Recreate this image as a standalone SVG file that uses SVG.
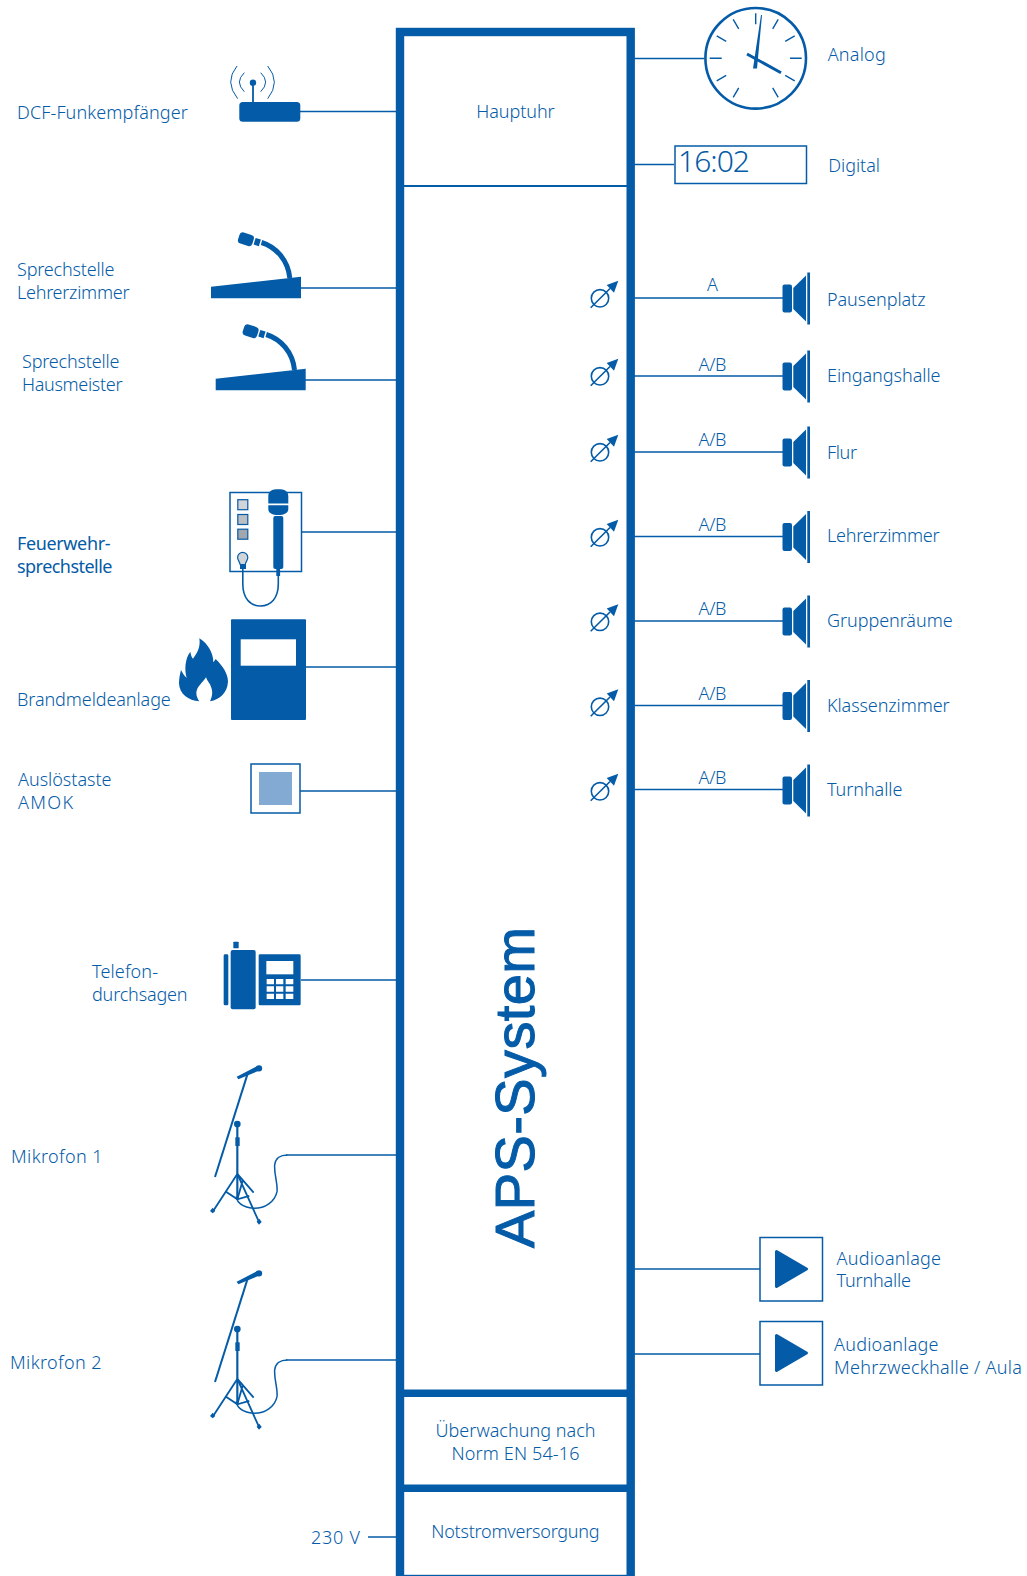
<svg xmlns="http://www.w3.org/2000/svg" xmlns:xlink="http://www.w3.org/1999/xlink" width="1027" height="1576" viewBox="0 0 1027 1576">
<style>
text{font-family:"Noto Sans","Open Sans",sans-serif;font-size:18px;font-weight:300;fill:#045ba7}
.m{text-anchor:middle}
.f{fill:#045ba7}
.s{fill:none;stroke:#045ba7}
.c{fill:none;stroke:#045ba7;stroke-width:1.7}
.w{fill:#fff}
</style>
<defs>
<g id="spk">
<rect class="f" x="782.500" y="-13.500" width="9.500" height="28" rx="2"/>
<polygon class="f" points="793.300,-10 806,-22.500 806,23.500 793.300,11"/>
<rect class="f" x="807.300" y="-25.500" width="2.700" height="52"/>
</g>
<g id="knob">
<circle class="s" cx="600" cy="0.300" r="8.700" stroke-width="1.600"/>
<line class="s" x1="590.700" y1="9.700" x2="610" y2="-9.500" stroke-width="1.600"/>
<polygon class="f" points="618.300,-17.300 606.700,-13 614,-5.300"/>
</g>
<g id="deskmic">
<polygon class="f" points="211,286.700 301,276.700 301,298.300 211,298.300"/>
<path class="s" stroke-width="5" d="M289.800,278 C288,260 276,247 261.500,242.500"/>
<rect class="f" x="254.500" y="238.500" width="5.500" height="7" transform="rotate(17 257 242)"/>
<rect class="f" x="238.500" y="233.500" width="15" height="11.500" rx="3.500" transform="rotate(17 246 239)"/>
</g>
<g id="stand" transform="translate(200,920) scale(.3333)">
<path class="s" stroke-width="6" d="M45,771 L142,464"/>
<polygon class="f" points="110,470 172,438 182,450 115,478"/>
<circle class="f" cx="177" cy="445" r="9.500"/>
<path class="s" stroke-width="6.500" d="M112,612 V840"/>
<circle class="f" cx="112" cy="612" r="10"/>
<rect class="f" x="106" y="652" width="13" height="26"/>
<path class="s" stroke-width="5.500" d="M112,762 L38,875 M112,762 L178,908 M112,762 L161,818 M78,815 L112,838 L148,828 M128,782 L112,838"/>
<path class="f" d="M30,873L38,863L46,873L38,880Z"/>
<path class="f" d="M170,905L178,896L185,906L177,914Z"/>
<path class="s" stroke-width="4.500" d="M108,830 C112,848 130,862 160,865 C195,866 225,845 231,815 C234,790 222,765 224,735 C226,715 242,705 262,705"/>
</g>
</defs>

<g id="connectors">
<path class="c" d="M300,111.500H396M301,288H396M305,380H396M302,532H396M306,667H396M300,791H396M301,980H396M368,1537H396M634,58.500H704M634,164.500H674M634,298H783M634,376H783M634,452H783M634,536.500H783M634,621H783M634,705.500H783M634,789.500H783M634,1269H760M634,1354H760"/>
<path class="c" d="M286,1155H396"/>
<path class="c" d="M286,1360H396"/>
</g>

<g id="aps-system">
<rect x="400" y="32" width="230.700" height="1547" fill="#fff" stroke="#045ba7" stroke-width="8.400"/>
<rect class="f" x="404" y="185" width="223" height="2"/>
<rect class="f" x="404" y="1389.500" width="223" height="7.500"/>
<rect class="f" x="404" y="1484.500" width="223" height="7.500"/>
<text class="m" x="515.500" y="118" textLength="78.400">Hauptuhr</text>
<text class="m" x="515.500" y="1437" textLength="160">Überwachung nach</text>
<text class="m" x="515.500" y="1460" textLength="128">Norm EN 54-16</text>
<text class="m" x="515.500" y="1538" textLength="168.300">Notstromversorgung</text>
<text transform="translate(533.500,1248) rotate(-90)" textLength="321" style="font-family:'Liberation Sans',Arial,sans-serif;font-size:56px;font-weight:400;fill:#045ba7;stroke:#045ba7;stroke-width:1">APS-System</text>
<use xlink:href="#knob" y="298"/>
<use xlink:href="#knob" y="376"/>
<use xlink:href="#knob" y="452"/>
<use xlink:href="#knob" y="537"/>
<use xlink:href="#knob" y="621.500"/>
<use xlink:href="#knob" y="706.500"/>
<use xlink:href="#knob" y="791"/>
</g>

<g id="dcf">
<text x="17" y="118.500" textLength="170.800">DCF-Funkempfänger</text>
<rect class="f" x="239.300" y="102" width="61" height="19.700" rx="3.500"/>
<path class="s" stroke-width="1.800" d="M253,83V102"/>
<circle class="f" cx="253" cy="82.700" r="3.200"/>
<path class="s" stroke-width="1" d="M237,66Q224,82 237.700,98.700M244.300,72.700Q234.500,82 244.300,91.700M267.700,66Q281,82 267.700,98.700M260.700,72.700Q270.500,82 260.700,91.700"/>
</g>
<g id="sprechstelle-lehrerzimmer">
<text x="17" y="276" textLength="97.500">Sprechstelle</text>
<text x="17" y="299" textLength="112.500">Lehrerzimmer</text>
<use xlink:href="#deskmic"/>
</g>
<g id="sprechstelle-hausmeister">
<text x="22" y="368" textLength="97.500">Sprechstelle</text>
<text x="22" y="391" textLength="100.500">Hausmeister</text>
<use xlink:href="#deskmic" x="4.700" y="92"/>
</g>
<g id="feuerwehr">
<text x="17" y="550" textLength="93.500" style="font-weight:400">Feuerwehr-</text>
<text x="17" y="573" textLength="95.500" style="font-weight:400">sprechstelle</text>
<rect class="s" x="230" y="492.500" width="71.500" height="79" stroke-width="1.500"/>
<rect x="237.800" y="499.700" width="10" height="10" fill="#d2d5d8" stroke="#045ba7" stroke-width="1.200"/>
<rect x="237.800" y="514.500" width="10" height="10" fill="#bbbfc4" stroke="#045ba7" stroke-width="1.200"/>
<rect x="237.800" y="529.200" width="10" height="10" fill="#a2a7ad" stroke="#045ba7" stroke-width="1.200"/>
<path d="M237.600,557.500a5.100,5.100 0 1 1 10.200,0c0,3 -2.200,4 -2.500,7h-5.200c-.3,-3 -2.500,-4 -2.500,-7z" fill="#d2d5d8" stroke="#045ba7" stroke-width="1.200"/>
<rect class="f" x="240" y="564" width="6" height="5"/>
<path class="s" stroke-width="1.600" d="M242.800,569V584C242.800,598 250,606 260.500,606C271,606 278.300,598 278.300,584V573"/>
<rect class="f" x="276.300" y="567" width="3.800" height="9"/>
<path class="f" d="M268.300,496C268.300,491 272,489.300 278.300,489.300C284.500,489.300 288.300,491 288.300,496V503.500H268.300ZM268.300,505.200H288.300V509C288.300,513 284,515 278.300,515C272.500,515 268.300,513 268.300,509Z"/>
<rect class="f" x="273.300" y="516" width="10" height="53" rx="2"/>
</g>
<g id="brandmeldeanlage">
<text x="17" y="706" textLength="153.800">Brandmeldeanlage</text>
<rect class="f" x="231" y="619.300" width="75" height="100.700" rx="1"/>
<rect class="w" x="240.700" y="639.300" width="55.300" height="26.400"/>
<path class="f" transform="translate(150,470) scale(.3333)" d="M148,505C175,522 190,550 190,577C192,574 195,570 197,567C220,590 234,612 234,635C232,668 210,688 180,694C186,680 190,668 183,650C180,640 172,634 168,622C160,636 140,650 139,668C139,678 143,686 148,694C115,692 88,672 87,640C87,625 90,612 93,600C97,608 103,618 110,623C103,600 105,565 121,545C122,553 125,562 129,566C143,548 152,530 148,505Z"/>
</g>
<g id="amok">
<text x="18" y="786" textLength="93.500">Auslöstaste</text>
<text x="18" y="809" textLength="55">AMOK</text>
<rect class="s" x="251" y="764" width="49" height="49" stroke-width="1.500"/>
<rect x="259" y="772" width="33" height="33" fill="#82aad3"/>
</g>
<g id="telefon">
<text x="92" y="978" textLength="66">Telefon-</text>
<text x="92" y="1001" textLength="95.500">durchsagen</text>
<g transform="translate(200,920) scale(.3333)">
<rect class="f" x="92" y="90" width="75" height="178" rx="6"/>
<rect class="f" x="100" y="65" width="16" height="20" rx="2"/>
<rect class="f" x="71" y="103" width="14" height="153" rx="4"/>
<rect class="f" x="176" y="103" width="126" height="153" rx="4"/>
<rect class="w" x="199" y="123" width="81" height="40"/>
<path class="w" d="M200,177h22v16h-22zM228,177h22v16h-22zM257,177h23v16h-23zM200,199h22v16h-22zM228,199h22v16h-22zM257,199h23v16h-23zM200,221h22v16h-22zM228,221h22v16h-22zM257,221h23v16h-23z"/>
</g>
</g>
<g id="mikrofon-1">
<text x="11" y="1163" textLength="91.500">Mikrofon 1</text>
<use xlink:href="#stand"/>
</g>
<g id="mikrofon-2">
<text x="10" y="1369" textLength="91.500">Mikrofon 2</text>
<use xlink:href="#stand" y="205"/>
</g>
<g id="netz"><text x="311" y="1544" textLength="49">230 V</text></g>

<g id="analog">
<text x="827.700" y="61" textLength="58">Analog</text>
<circle cx="755.700" cy="58.300" r="50.300" fill="#fff" stroke="#045ba7" stroke-width="2.600"/>
<g class="s" stroke-width="1.400">
<path d="M755.700,13.300V24.300M778.200,19.300L772.700,28.800M794.700,35.800L785.200,41.300M801.700,58.300H790M794.700,80.800L785.200,75.300M778.200,97.300L772.700,87.800M733.200,97.300L738.700,87.800M716.700,80.800L726.200,75.300M709.700,58.300H721.700M716.700,35.800L726.200,41.300M733.200,19.300L738.700,28.800"/>
</g>
<polygon class="f" points="753,68.500 757,68.500 762,15 761,15"/>
<path class="s" stroke-width="3" d="M747,54L781,72.700"/>
</g>
<g id="digital">
<text x="828.300" y="172" textLength="51.700">Digital</text>
<rect class="s" x="675" y="146" width="131.500" height="37.500" stroke-width="1.500"/>
<text x="678" y="172" textLength="72" style="font-size:30px;font-weight:300;fill:#045ba7">16:02</text>
</g>
<g id="pausenplatz"><text class="m" x="712.500" y="291">A</text><use xlink:href="#spk" y="298"/><text x="827" y="305.500" textLength="98.500">Pausenplatz</text></g>
<g id="eingangshalle"><text class="m" x="712.500" y="371" textLength="28">A/B</text><use xlink:href="#spk" y="376"/><text x="827" y="382" textLength="113.500">Eingangshalle</text></g>
<g id="flur"><text class="m" x="712.500" y="446" textLength="28">A/B</text><use xlink:href="#spk" y="452"/><text x="827" y="459" textLength="30">Flur</text></g>
<g id="lehrerzimmer"><text class="m" x="712.500" y="531" textLength="28">A/B</text><use xlink:href="#spk" y="536.500"/><text x="827" y="542" textLength="112.500">Lehrerzimmer</text></g>
<g id="gruppenraeume"><text class="m" x="712.500" y="615" textLength="28">A/B</text><use xlink:href="#spk" y="621"/><text x="827" y="627" textLength="125.600">Gruppenräume</text></g>
<g id="klassenzimmer"><text class="m" x="712.500" y="700" textLength="28">A/B</text><use xlink:href="#spk" y="705.500"/><text x="827" y="711.500" textLength="122.600">Klassenzimmer</text></g>
<g id="turnhalle"><text class="m" x="712.500" y="784" textLength="28">A/B</text><use xlink:href="#spk" y="790"/><text x="827" y="796" textLength="75.400">Turnhalle</text></g>
<g id="audio-turnhalle">
<rect class="s" x="760" y="1237.500" width="62.500" height="63.500" stroke-width="1.500"/>
<polygon class="f" stroke="#045ba7" stroke-width="3" stroke-linejoin="round" points="776.500,1251.500 806.500,1269 776.500,1286.500"/>
<text x="836.500" y="1265" textLength="104.500">Audioanlage</text>
<text x="836.500" y="1287" textLength="74.400">Turnhalle</text>
</g>
<g id="audio-mehrzweckhalle">
<rect class="s" x="760" y="1321.500" width="62.500" height="63.500" stroke-width="1.500"/>
<polygon class="f" stroke="#045ba7" stroke-width="3" stroke-linejoin="round" points="776.500,1335.500 806.500,1353 776.500,1370.500"/>
<text x="834" y="1351" textLength="104.500">Audioanlage</text>
<text x="834" y="1374" textLength="188">Mehrzweckhalle / Aula</text>
</g>
</svg>
